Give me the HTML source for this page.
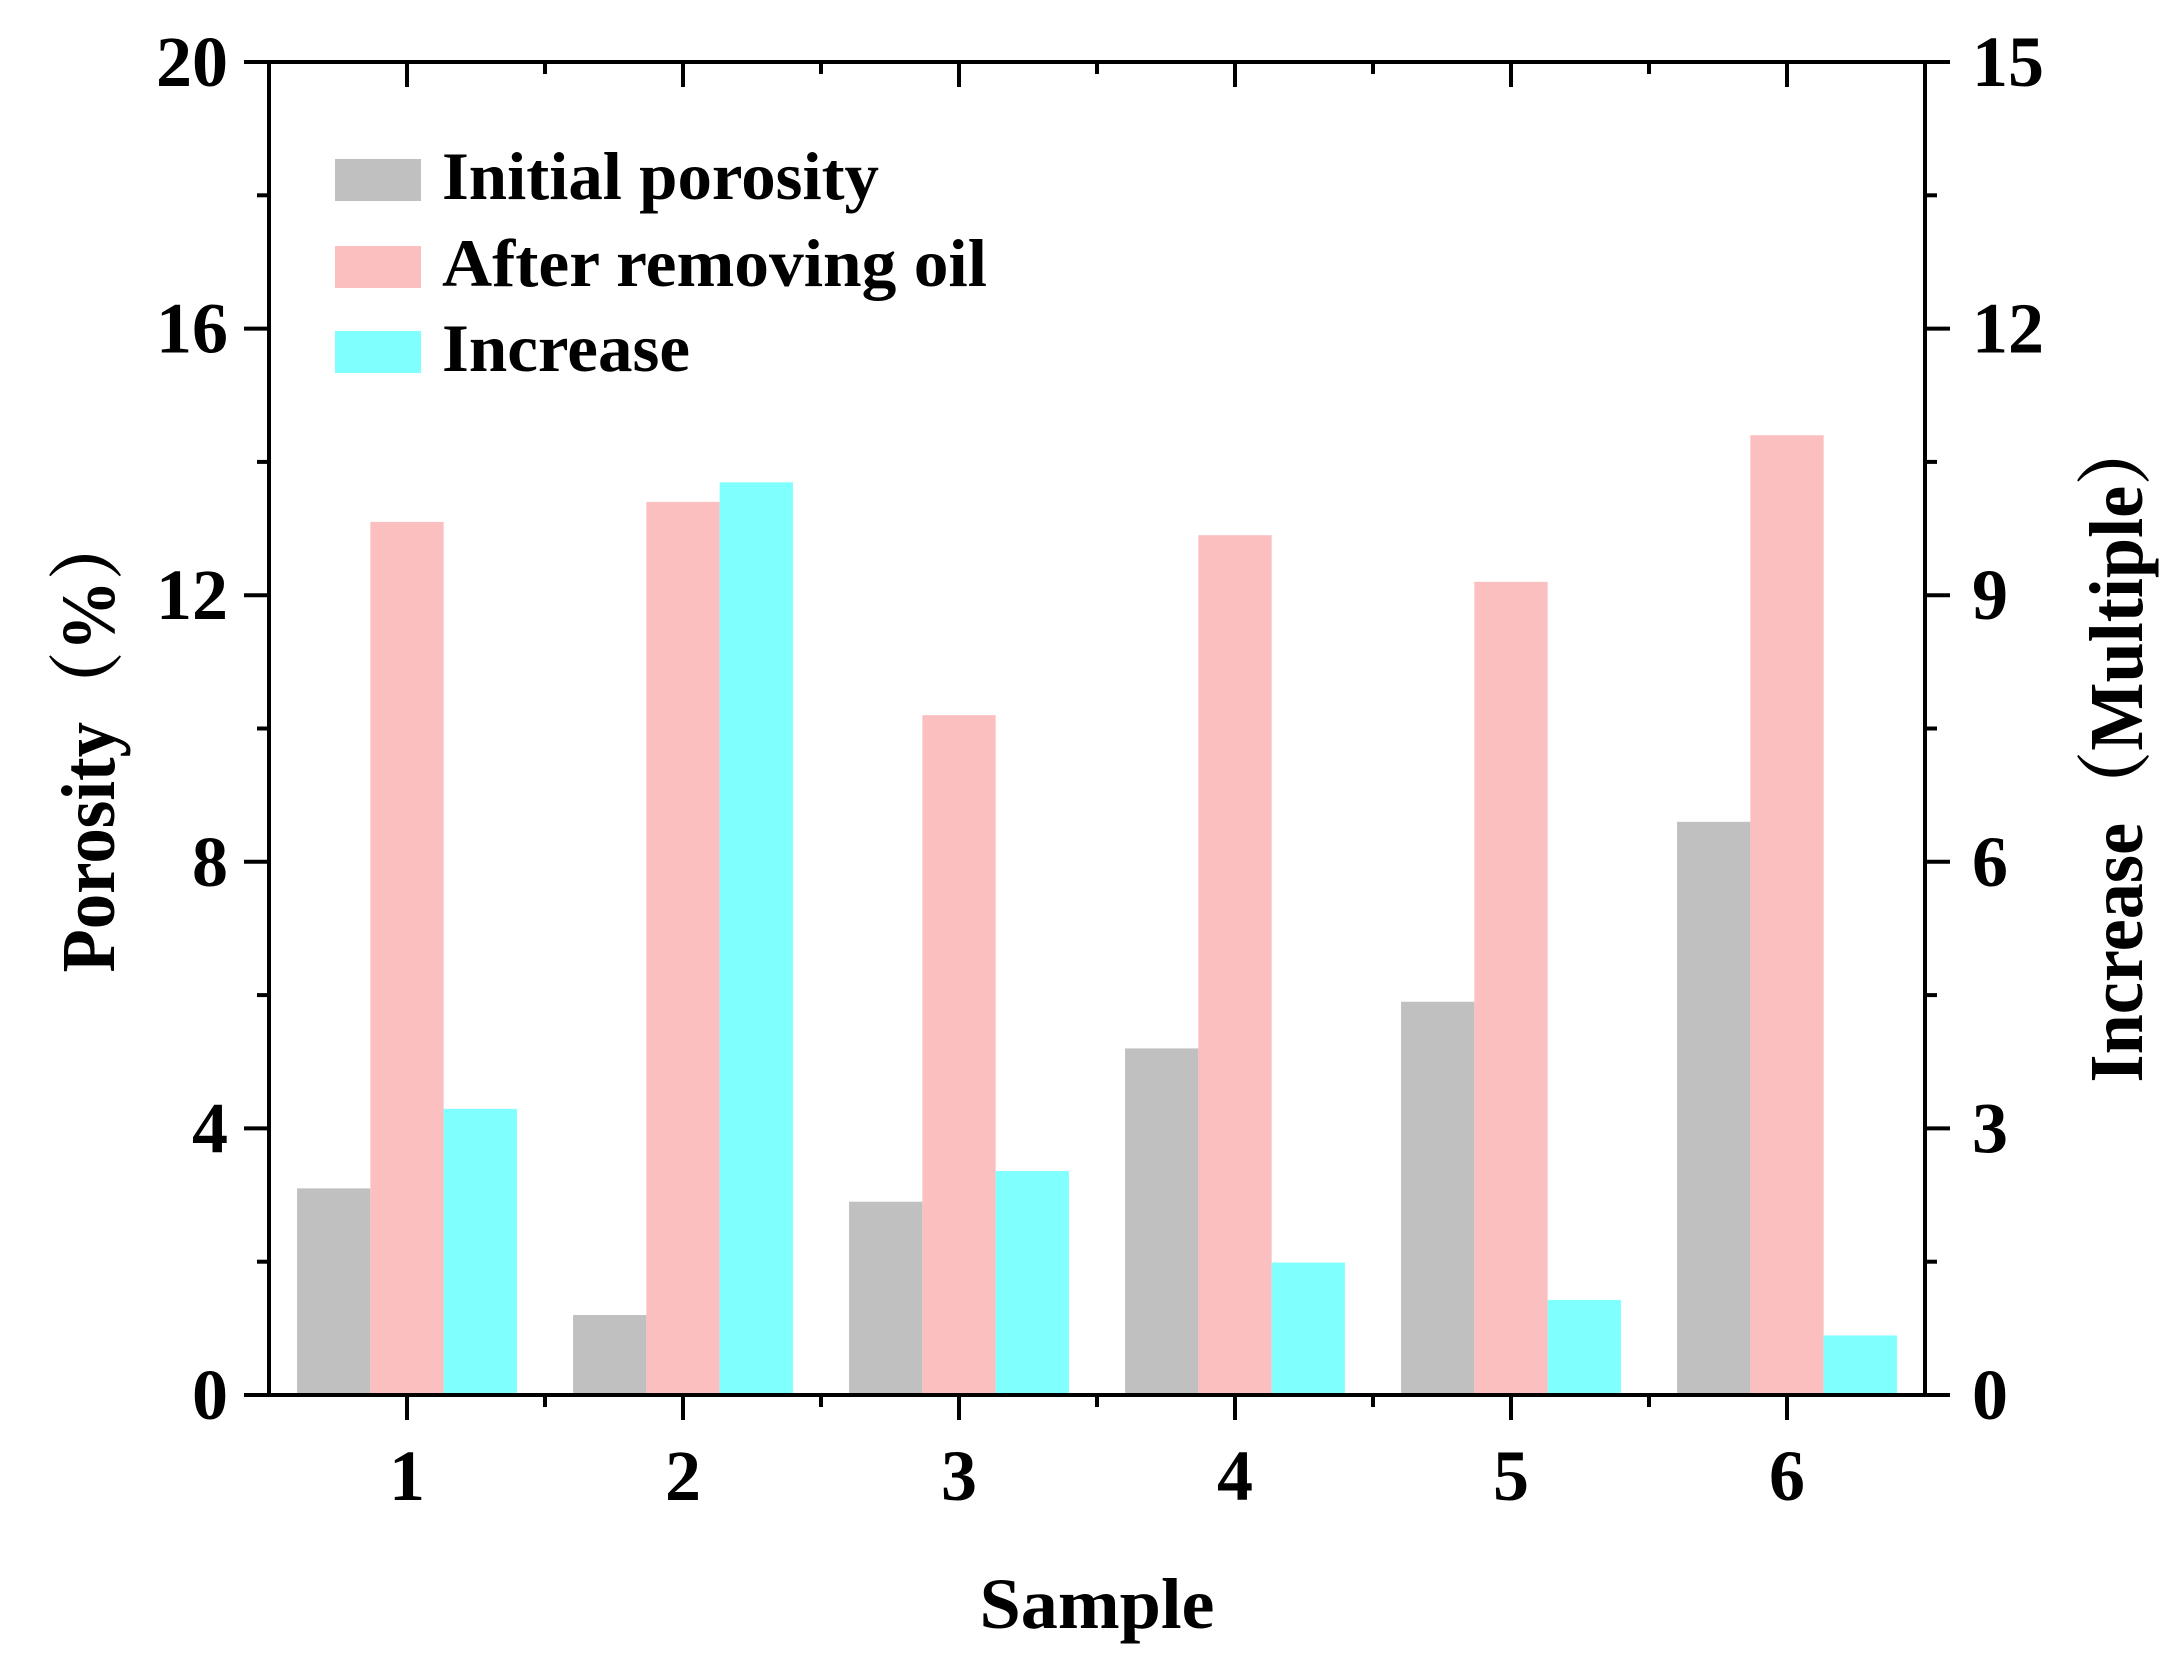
<!DOCTYPE html>
<html><head><meta charset="utf-8"><style>
html,body{margin:0;padding:0;background:#fff}
svg{display:block}
text{font-family:"Liberation Serif","Noto Serif CJK SC",serif;font-weight:bold;fill:#000}
</style></head><body>
<svg id="chart" width="2164" height="1676" viewBox="0 0 2164 1676" xmlns="http://www.w3.org/2000/svg">
<g id="bars"></g>
<g id="axes"></g>
<g id="legend"></g>
</svg>
<script>
const categories = ["1","2","3","4","5","6"];
const initialPorosity = [3.1, 1.2, 2.9, 5.2, 5.9, 8.6];
const afterRemovingOil = [13.1, 13.4, 10.2, 12.9, 12.2, 14.4];
const increaseMultiple = [3.22, 10.27, 2.52, 1.49, 1.07, 0.67];
const leftTicks = [0, 4, 8, 12, 16, 20];
const rightTicks = [0, 3, 6, 9, 12, 15];

const NS = "http://www.w3.org/2000/svg";
const X0 = 269, X1 = 1925, Y0 = 1395, Y1 = 62;
const catW = (X1 - X0) / categories.length;
const barW = 73.3;
function xCat(i){ return X0 + catW * (i + 0.5); }
function yL(v){ return Y0 - (v / 20) * (Y0 - Y1); }
function yR(v){ return Y0 - (v / 15) * (Y0 - Y1); }
function mk(tag, attrs, parent){
  const e = document.createElementNS(NS, tag);
  for (const k in attrs) e.setAttribute(k, attrs[k]);
  parent.appendChild(e);
  return e;
}
const bars = document.getElementById('bars');
const axes = document.getElementById('axes');
const legend = document.getElementById('legend');

categories.forEach((c, i) => {
  const cx = xCat(i);
  let r = mk('rect', {x: cx - 1.5*barW, y: yL(initialPorosity[i]), width: barW, height: Y0 - yL(initialPorosity[i]), fill: '#c0c0c0'}, bars);
  
  
  r = mk('rect', {x: cx - 0.5*barW, y: yL(afterRemovingOil[i]), width: barW, height: Y0 - yL(afterRemovingOil[i]), fill: '#fbbfbf'}, bars);
  
  
  r = mk('rect', {x: cx + 0.5*barW, y: yR(increaseMultiple[i]), width: barW, height: Y0 - yR(increaseMultiple[i]), fill: '#80ffff'}, bars);
  
  
});

const sw = 4;
mk('line', {x1: X0, y1: Y1, x2: X0, y2: Y0, stroke: '#000', 'stroke-width': sw}, axes);
mk('line', {x1: X1, y1: Y1, x2: X1, y2: Y0, stroke: '#000', 'stroke-width': sw}, axes);
mk('line', {x1: X0 - 25, y1: Y1, x2: X1 + 25, y2: Y1, stroke: '#000', 'stroke-width': sw}, axes);
mk('line', {x1: X0 - 25, y1: Y0, x2: X1 + 25, y2: Y0, stroke: '#000', 'stroke-width': sw}, axes);

leftTicks.forEach((v, i) => {
  const y = yL(v);
  mk('line', {x1: X0 - 25, y1: y, x2: X0, y2: y, stroke: '#000', 'stroke-width': sw}, axes);
  if (i < leftTicks.length - 1) {
    const ym = yL(v + 2);
    mk('line', {x1: X0 - 12, y1: ym, x2: X0, y2: ym, stroke: '#000', 'stroke-width': sw}, axes);
  }
  const t = mk('text', {x: 228, y: y + 24, 'font-size': 72, 'text-anchor': 'end'}, axes);
  t.textContent = v;
  
  
});
rightTicks.forEach((v, i) => {
  const y = yR(v);
  mk('line', {x1: X1, y1: y, x2: X1 + 25, y2: y, stroke: '#000', 'stroke-width': sw}, axes);
  if (i < rightTicks.length - 1) {
    const ym = yR(v + 1.5);
    mk('line', {x1: X1, y1: ym, x2: X1 + 12, y2: ym, stroke: '#000', 'stroke-width': sw}, axes);
  }
  const t = mk('text', {x: 1972, y: y + 24, 'font-size': 72, 'text-anchor': 'start'}, axes);
  t.textContent = v;
  
  
});
categories.forEach((c, i) => {
  const x = xCat(i);
  mk('line', {x1: x, y1: Y0, x2: x, y2: Y0 + 25, stroke: '#000', 'stroke-width': sw}, axes);
  mk('line', {x1: x, y1: Y1, x2: x, y2: Y1 + 25, stroke: '#000', 'stroke-width': sw}, axes);
  const xb = X0 + catW * (i + 1);
  if (i < categories.length - 1) {
    mk('line', {x1: xb, y1: Y0, x2: xb, y2: Y0 + 12, stroke: '#000', 'stroke-width': sw}, axes);
    mk('line', {x1: xb, y1: Y1, x2: xb, y2: Y1 + 12, stroke: '#000', 'stroke-width': sw}, axes);
  }
  const t = mk('text', {x: x, y: 1500, 'font-size': 72, 'text-anchor': 'middle'}, axes);
  t.textContent = c;
  
  
});
</script>
<script>
(function(){
  const NS = "http://www.w3.org/2000/svg";
  const svg = document.getElementById('chart');
  function txt(attrs, s, name){
    const e = document.createElementNS(NS, 'text');
    for (const k in attrs) e.setAttribute(k, attrs[k]);
    e.textContent = s;
    
    
    svg.appendChild(e);
    return e;
  }
  txt({x: 1097, y: 1628, 'font-size': 72, 'text-anchor': 'middle', textLength: 235, lengthAdjust: 'spacingAndGlyphs'}, 'Sample', 'x-axis-title');
  txt({x: 0, y: 0, 'font-size': 76, 'text-anchor': 'middle', transform: 'translate(114,741) rotate(-90)', textLength: 463, lengthAdjust: 'spacingAndGlyphs'}, 'Porosity（%）', 'left-axis-title');
  txt({x: 0, y: 0, 'font-size': 76, 'text-anchor': 'middle', transform: 'translate(2142,748) rotate(-90)', textLength: 669, lengthAdjust: 'spacingAndGlyphs'}, 'Increase（Multiple）', 'right-axis-title');
  const lg = document.getElementById('legend');
  const items = [['#c0c0c0','Initial porosity',437,159,'legend-initial'],['#fbbfbf','After removing oil',545,246,'legend-after'],['#80ffff','Increase',248,331,'legend-increase']];
  items.forEach(it => {
    const r = document.createElementNS(NS, 'rect');
    r.setAttribute('x', 335); r.setAttribute('y', it[3]);
    r.setAttribute('width', 86); r.setAttribute('height', 42);
    r.setAttribute('fill', it[0]);
    
    
    lg.appendChild(r);
    const t = document.createElementNS(NS, 'text');
    t.setAttribute('x', 442); t.setAttribute('y', it[3] + 40);
    t.setAttribute('font-size', 68);
    t.setAttribute('textLength', it[2]);
    t.setAttribute('lengthAdjust', 'spacingAndGlyphs');
    t.textContent = it[1];
    
    
    lg.appendChild(t);
  });
})();
</script>
</body></html>
